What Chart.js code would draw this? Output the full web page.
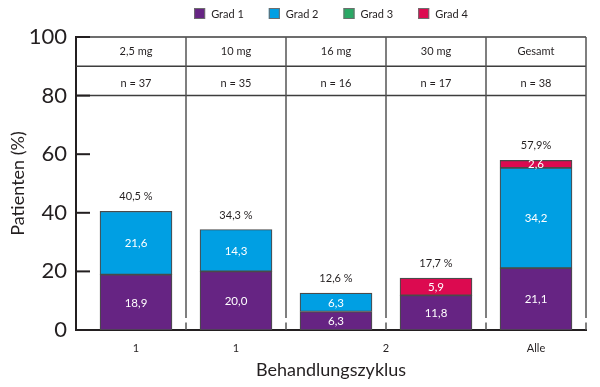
<!DOCTYPE html>
<html>
<head>
<meta charset="utf-8">
<script src="https://cdn.jsdelivr.net/npm/chart.js@4"></script>
<style>
  html, body { margin: 0; padding: 0; background: #fff; }
</style>
</head>
<body>
<canvas id="chart" width="600" height="387"></canvas>
<script>
// data
const doses = ['2,5 mg', '10 mg', '16 mg', '30 mg', 'Gesamt'];
const patients = [37, 35, 16, 17, 38];
const grad1 = [18.9, 20.0, 6.3, 11.8, 21.1];
const grad2 = [21.6, 14.3, 6.3, 0, 34.2];
const grad3 = [0, 0, 0, 0, 0];
const grad4 = [0, 0, 0, 5.9, 2.6];
const totals = ['40,5 %', '34,3 %', '12,6 %', '17,7 %', '57,9%'];
const cycleLabels = ['1', '1', '2', 'Alle'];
const cycleColumns = [[0], [1], [2, 3], [4]];
const yTicks = [0, 20, 40, 60, 80, 100];

const ink = '#231f20';
const face = 'Lato';

function toPoints(values) {
  return values.map((v, i) => ({ x: i, y: v }));
}

function fmt(v) {
  return v.toFixed(1).replace('.', ',');
}

function seg(ctx, x1, y1, x2, y2) {
  ctx.beginPath();
  ctx.moveTo(x1, y1);
  ctx.lineTo(x2, y2);
  ctx.stroke();
}

// header table, column separators, inner tick marks
const tablePlugin = {
  id: 'table',
  afterDraw(chart) {
    const { ctx, chartArea: a, scales: { x, y } } = chart;
    const base = y.getPixelForValue(0);
    ctx.save();

    ctx.strokeStyle = '#3d3d3d';
    ctx.lineWidth = 1.5;
    [100, 90, 80].forEach(v => {
      const py = y.getPixelForValue(v);
      seg(ctx, a.left, py, a.right, py);
    });

    ctx.strokeStyle = '#555';
    doses.forEach((d, i) => {
      const px = x.getPixelForValue(i + 0.5);
      seg(ctx, px, y.getPixelForValue(100), px, base - 12);
      seg(ctx, px, base - 7.5, px, base);
    });

    ctx.strokeStyle = ink;
    ctx.lineWidth = 2;
    yTicks.forEach(v => {
      const py = y.getPixelForValue(v);
      seg(ctx, a.left, py, a.left + 14, py);
    });

    ctx.fillStyle = ink;
    ctx.font = `11px ${face}`;
    ctx.textAlign = 'center';
    ctx.textBaseline = 'middle';
    const r1 = (y.getPixelForValue(100) + y.getPixelForValue(90)) / 2;
    const r2 = (y.getPixelForValue(90) + y.getPixelForValue(80)) / 2 + 3;
    doses.forEach((d, i) => {
      const px = x.getPixelForValue(i);
      ctx.fillText(d, px, r1);
      ctx.fillText('n = ' + patients[i], px, r2);
    });
    ctx.restore();
  }
};

// numbers inside the segments and totals above the bars
const labelPlugin = {
  id: 'labels',
  afterDatasetsDraw(chart) {
    const { ctx, scales: { x, y } } = chart;
    ctx.save();
    ctx.textAlign = 'center';
    ctx.textBaseline = 'middle';
    ctx.fillStyle = '#fff';
    ctx.font = `11.5px ${face}`;
    chart.data.datasets.forEach((ds, di) => {
      chart.getDatasetMeta(di).data.forEach((el, i) => {
        const v = ds.data[i].y;
        if (!v) return;
        ctx.fillText(fmt(v), el.x, (el.y + el.base) / 2 + 0.5);
      });
    });
    ctx.fillStyle = ink;
    ctx.font = `11px ${face}`;
    totals.forEach((t, i) => {
      const sum = grad1[i] + grad2[i] + grad3[i] + grad4[i];
      ctx.fillText(t, x.getPixelForValue(i), y.getPixelForValue(sum) - 14.5);
    });
    ctx.restore();
  }
};

const legendPlugin = {
  id: 'gradLegend',
  afterDraw(chart) {
    const { ctx, chartArea: a } = chart;
    const box = 11, gap = 6, space = 25;
    ctx.save();
    ctx.font = `11px ${face}`;
    const items = chart.data.datasets.map(ds => ({
      text: ds.label, color: ds.backgroundColor, w: ctx.measureText(ds.label).width
    }));
    const total = items.reduce((s, it) => s + box + gap + it.w, 0) + space * (items.length - 1);
    let cx = (a.left + a.right) / 2 - total / 2;
    ctx.textBaseline = 'middle';
    items.forEach(it => {
      ctx.fillStyle = it.color;
      ctx.fillRect(cx, 8, box, box);
      ctx.strokeStyle = '#6d6d6d';
      ctx.lineWidth = 1;
      ctx.strokeRect(cx + 0.5, 8.5, box - 1, box - 1);
      ctx.fillStyle = ink;
      ctx.fillText(it.text, cx + box + gap, 14);
      cx += box + gap + it.w + space;
    });
    ctx.restore();
  }
};

function bars(label, values, color) {
  return {
    label: label,
    data: toPoints(values),
    backgroundColor: color,
    borderColor: '#4a4a4a',
    borderWidth: 1.2,
    borderSkipped: false,
    barThickness: 72
  };
}

new Chart(document.getElementById('chart'), {
  type: 'bar',
  data: {
    datasets: [
      bars('Grad 1', grad1, '#662483'),
      bars('Grad 2', grad2, '#009fe3'),
      bars('Grad 3', grad3, '#2aa865'),
      bars('Grad 4', grad4, '#dc0a50')
    ]
  },
  options: {
    responsive: false,
    animation: false,
    layout: { padding: { top: 37, right: 14, bottom: 0, left: 0 } },
    plugins: {
      legend: { display: false },
      tooltip: { enabled: false }
    },
    scales: {
      x: {
        type: 'linear',
        stacked: true,
        offset: false,
        min: -0.6,
        max: 4.5,
        grid: { display: false, drawTicks: false, offset: false },
        border: { display: true, color: ink, width: 2 },
        afterBuildTicks: s => {
          s.ticks = cycleColumns.map(c => ({ value: c.reduce((p, q) => p + q, 0) / c.length }));
        },
        afterFit: s => { s.height = 57; },
        ticks: {
          autoSkip: false,
          maxRotation: 0,
          padding: 12,
          color: ink,
          font: { family: face, size: 11 },
          callback: (v, i) => cycleLabels[i]
        },
        title: {
          display: true,
          text: 'Behandlungszyklus',
          color: ink,
          font: { family: face, size: 18 },
          padding: { top: 0, bottom: 6 }
        }
      },
      y: {
        stacked: true,
        min: 0,
        max: 100,
        grid: { display: false, drawTicks: false },
        border: { display: true, color: ink, width: 2 },
        afterFit: s => { s.width = 76; },
        ticks: {
          stepSize: 20,
          padding: 9,
          color: ink,
          font: { family: face, size: 22 }
        },
        title: {
          display: true,
          text: 'Patienten (%)',
          color: ink,
          font: { family: face, size: 18 },
          padding: { top: 7, bottom: 0 }
        }
      }
    }
  },
  plugins: [tablePlugin, labelPlugin, legendPlugin]
});
</script>
</body>
</html>
